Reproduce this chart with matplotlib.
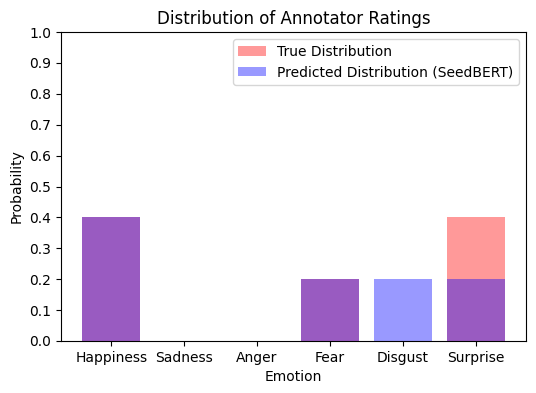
import matplotlib
matplotlib.use("Agg")
import matplotlib.pyplot as plt
import numpy as np

emotions = ["Happiness", "Sadness", "Anger", "Fear", "Disgust", "Surprise"]
true_dist = [0.4, 0.0, 0.0, 0.2, 0.0, 0.4]
pred_dist = [0.4, 0.0, 0.0, 0.2, 0.2, 0.2]
yticks = np.arange(0, 1.01, 0.1)

fig = plt.figure(figsize=(5.36, 3.93), dpi=100)
ax = fig.add_axes([61 / 536, 1 - 341 / 393, (526 - 61) / 536, (341 - 32) / 393])

x = np.arange(len(emotions))
ax.bar(x, true_dist, color="red", alpha=0.4, label="True Distribution")
ax.bar(x, pred_dist, color="blue", alpha=0.4, label="Predicted Distribution (SeedBERT)")

ax.set_xticks(x)
ax.set_xticklabels(emotions)
ax.set_ylim(0, 1)
ax.set_yticks(yticks)
ax.set_xlabel("Emotion")
ax.set_ylabel("Probability")
ax.set_title("Distribution of Annotator Ratings")
ax.legend(loc="upper right")

fig.savefig("out.png", dpi=100)
